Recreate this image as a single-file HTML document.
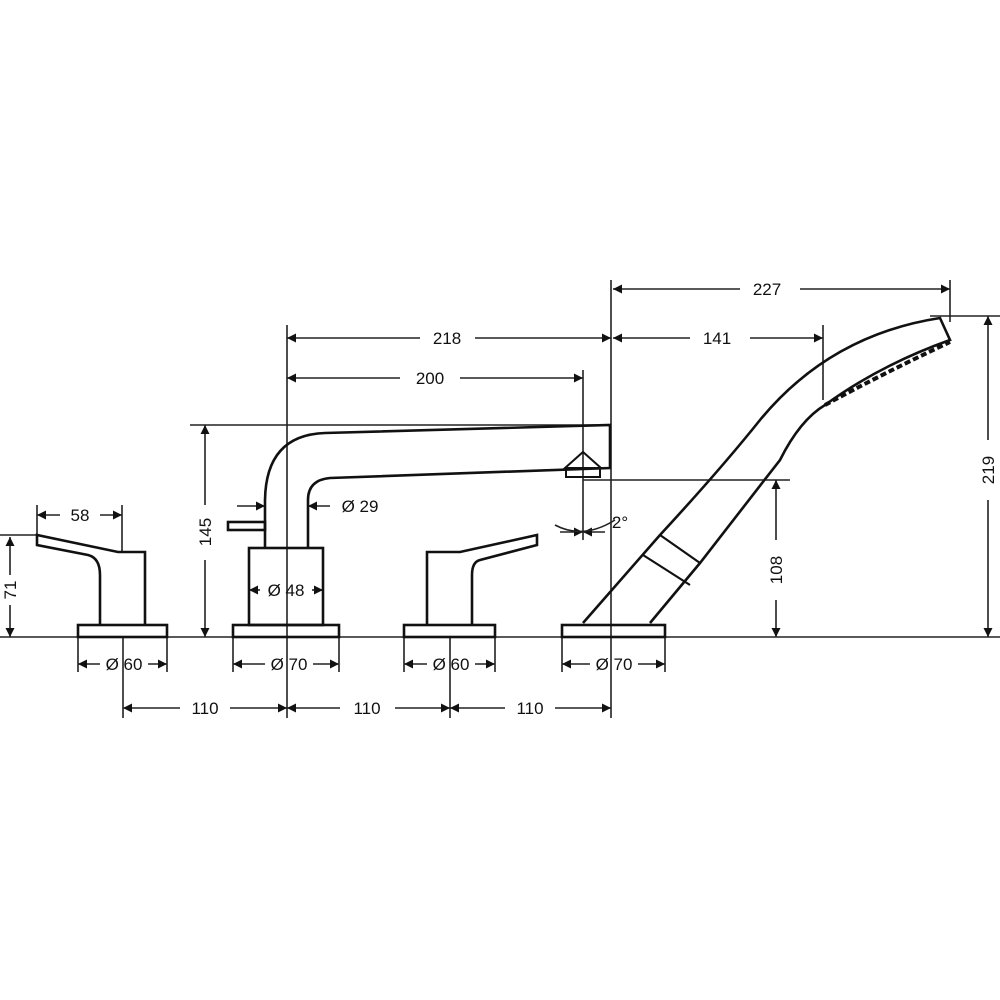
<!DOCTYPE html>
<html><head><meta charset="utf-8"><style>
body{margin:0;background:#fff}
svg{display:block}
text{font-family:"Liberation Sans",sans-serif;font-size:17px;fill:#111}
</style></head><body>
<svg width="1000" height="1000" viewBox="0 0 1000 1000" xmlns="http://www.w3.org/2000/svg">
<defs>
<marker id="a" viewBox="0 0 10 10" refX="10" refY="5" markerWidth="9" markerHeight="9" orient="auto-start-reverse" markerUnits="userSpaceOnUse"><path d="M0,0L10,5L0,10z" fill="#111"/></marker>
</defs>
<g stroke="#222" stroke-width="1.6" fill="none">
<!-- baseline -->
<line x1="0" y1="637" x2="1000" y2="637"/>
<!-- extension / center lines -->
<line x1="123" y1="637" x2="123" y2="718"/>
<line x1="287" y1="325" x2="287" y2="718"/>
<line x1="450" y1="637" x2="450" y2="718"/>
<line x1="611" y1="280" x2="611" y2="718"/>
<line x1="583" y1="370" x2="583" y2="540"/>
<line x1="37" y1="505" x2="37" y2="535"/>
<line x1="122" y1="505" x2="122" y2="552"/>
<line x1="0" y1="535" x2="37" y2="535"/>
<line x1="190" y1="425" x2="611" y2="425"/>
<line x1="583" y1="480" x2="790" y2="480"/>
<line x1="823" y1="325" x2="823" y2="400"/>
<line x1="950" y1="280" x2="950" y2="322"/>
<line x1="930" y1="316" x2="1000" y2="316"/>
<!-- diameter ext lines -->
<line x1="78" y1="637" x2="78" y2="672"/><line x1="167" y1="637" x2="167" y2="672"/>
<line x1="233" y1="637" x2="233" y2="672"/><line x1="339" y1="637" x2="339" y2="672"/>
<line x1="404" y1="637" x2="404" y2="672"/><line x1="495" y1="637" x2="495" y2="672"/>
<line x1="562" y1="637" x2="562" y2="672"/><line x1="665" y1="637" x2="665" y2="672"/>
</g>
<!-- dimension lines with arrows -->
<g stroke="#222" stroke-width="1.6" fill="none">
<line x1="37" y1="515" x2="60" y2="515" marker-start="url(#a)"/><line x1="100" y1="515" x2="122" y2="515" marker-end="url(#a)"/>
<line x1="10" y1="537" x2="10" y2="575" marker-start="url(#a)"/><line x1="10" y1="605" x2="10" y2="637" marker-end="url(#a)"/>
<line x1="205" y1="425" x2="205" y2="505" marker-start="url(#a)"/><line x1="205" y1="560" x2="205" y2="637" marker-end="url(#a)"/>
<line x1="287" y1="338" x2="420" y2="338" marker-start="url(#a)"/><line x1="475" y1="338" x2="611" y2="338" marker-end="url(#a)"/>
<line x1="287" y1="378" x2="400" y2="378" marker-start="url(#a)"/><line x1="460" y1="378" x2="583" y2="378" marker-end="url(#a)"/>
<line x1="613" y1="289" x2="740" y2="289" marker-start="url(#a)"/><line x1="800" y1="289" x2="950" y2="289" marker-end="url(#a)"/>
<line x1="613" y1="338" x2="690" y2="338" marker-start="url(#a)"/><line x1="750" y1="338" x2="823" y2="338" marker-end="url(#a)"/>
<line x1="776" y1="480" x2="776" y2="540" marker-start="url(#a)"/><line x1="776" y1="600" x2="776" y2="637" marker-end="url(#a)"/>
<line x1="988" y1="316" x2="988" y2="440" marker-start="url(#a)"/><line x1="988" y1="500" x2="988" y2="637" marker-end="url(#a)"/>
<line x1="123" y1="708" x2="180" y2="708" marker-start="url(#a)"/><line x1="230" y1="708" x2="287" y2="708" marker-end="url(#a)"/>
<line x1="287" y1="708" x2="340" y2="708" marker-start="url(#a)"/><line x1="395" y1="708" x2="450" y2="708" marker-end="url(#a)"/>
<line x1="450" y1="708" x2="505" y2="708" marker-start="url(#a)"/><line x1="555" y1="708" x2="611" y2="708" marker-end="url(#a)"/>
<line x1="78" y1="664" x2="100" y2="664" marker-start="url(#a)"/><line x1="148" y1="664" x2="167" y2="664" marker-end="url(#a)"/>
<line x1="233" y1="664" x2="265" y2="664" marker-start="url(#a)"/><line x1="313" y1="664" x2="339" y2="664" marker-end="url(#a)"/>
<line x1="404" y1="664" x2="427" y2="664" marker-start="url(#a)"/><line x1="475" y1="664" x2="495" y2="664" marker-end="url(#a)"/>
<line x1="562" y1="664" x2="590" y2="664" marker-start="url(#a)"/><line x1="638" y1="664" x2="665" y2="664" marker-end="url(#a)"/>
<line x1="249" y1="590" x2="260" y2="590" marker-start="url(#a)"/><line x1="312" y1="590" x2="323" y2="590" marker-end="url(#a)"/>
<line x1="237" y1="506" x2="265" y2="506" marker-end="url(#a)"/><line x1="330" y1="506" x2="308" y2="506" marker-end="url(#a)"/>
<line x1="560" y1="532" x2="583" y2="532" marker-end="url(#a)"/><line x1="605" y1="532" x2="583" y2="532" marker-end="url(#a)"/>
<path d="M555,525 Q583,540 615,520"/>
</g>
<!-- fixtures -->
<g stroke="#111" stroke-width="2.6" fill="none">
<!-- left handle -->
<rect x="78" y="625" width="89" height="12"/>
<path d="M100,625V575Q100,558 88,555L37,545V535L118,552H145V625"/>
<!-- center mixer -->
<rect x="233" y="625" width="106" height="12"/>
<rect x="249" y="548" width="74" height="77"/>
<rect x="228" y="522" width="37" height="8"/>
<path d="M265,548V500Q266,435 325,433L610,425V468L330,478Q308,480 308,500V548"/>
<path d="M565,468L583,452L601,468Z" stroke-width="2"/>
<rect x="566" y="468" width="34" height="9" stroke-width="2"/>
<!-- right handle -->
<rect x="404" y="625" width="91" height="12"/>
<path d="M427,625V552H460L537,535V545L480,560Q472,562 472,575V625"/>
<!-- hand shower -->
<rect x="562" y="625" width="103" height="12"/>
<path d="M583,623L660,535Q720,470 760,420Q830,335 940,318L950,340Q880,365 825,405Q800,420 780,460L700,563L650,623"/>
<path d="M660,535L700,563M643,555L690,585" stroke-width="2.2"/>
<path d="M825,405Q880,375 950,342" stroke-dasharray="6 3" stroke-width="4"/>
</g>
<!-- labels -->
<g text-anchor="middle">
<text x="80" y="521">58</text>
<text x="447" y="344">218</text>
<text x="430" y="384">200</text>
<text x="767" y="295">227</text>
<text x="717" y="344">141</text>
<text x="205" y="714">110</text>
<text x="367" y="714">110</text>
<text x="530" y="714">110</text>
<text x="124" y="670">Ø 60</text>
<text x="289" y="670">Ø 70</text>
<text x="451" y="670">Ø 60</text>
<text x="614" y="670">Ø 70</text>
<text x="286" y="596">Ø 48</text>
<text x="360" y="512">Ø 29</text>
<text transform="translate(16,590) rotate(-90)">71</text>
<text transform="translate(211,532) rotate(-90)">145</text>
<text transform="translate(782,570) rotate(-90)">108</text>
<text transform="translate(994,470) rotate(-90)">219</text>
<text x="620" y="528" font-size="14">2°</text>
</g>
</svg>
</body></html>
